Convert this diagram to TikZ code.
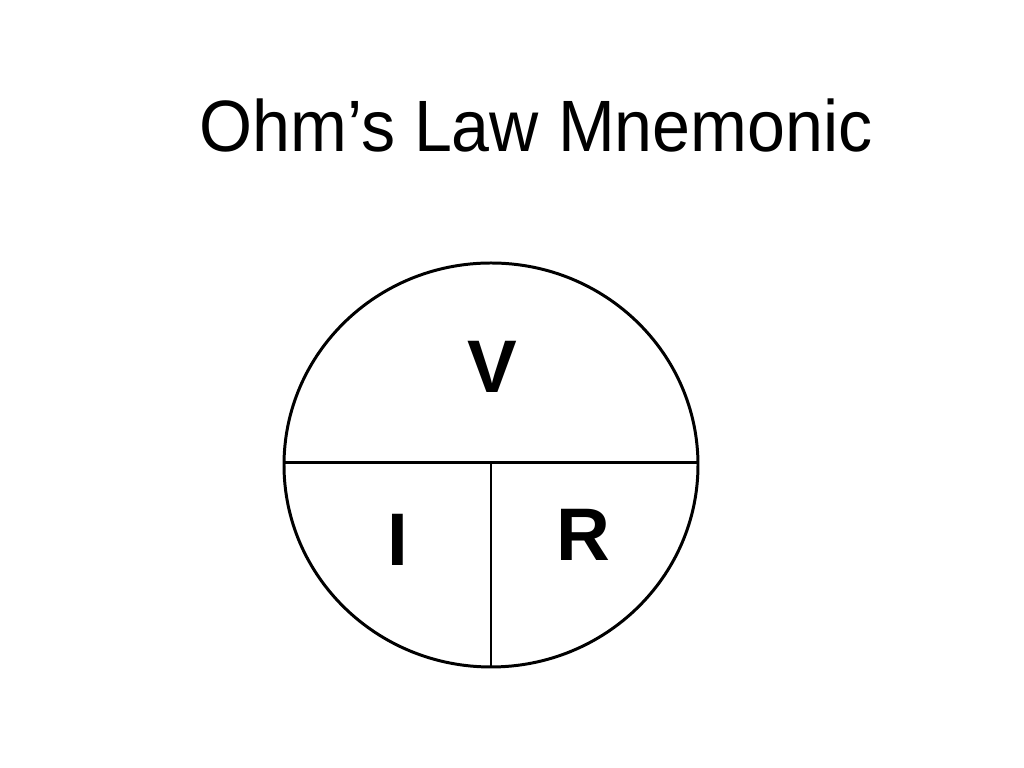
\documentclass[tikz,border=0pt]{standalone}
\usepackage{fontspec}
\setmainfont{Liberation Sans}

\begin{document}
\begin{tikzpicture}

\useasboundingbox[fill=white] (0,0) rectangle (10.24,7.68);

\tikzset{letter/.style={font=\fontsize{21.2}{25}\selectfont\bfseries, inner sep=0pt}}

\draw (5.36,6.16) node[anchor=base, inner sep=0pt, xscale=0.937, font=\fontsize{20.7}{25}\selectfont] (title) {Ohm’s Law Mnemonic};

\draw[line width=0.85pt] (4.91,3.03) ellipse (2.07cm and 2.02cm);

\draw[line width=0.85pt] (2.84,3.05) -- (6.98,3.05);
\draw[line width=0.85pt] (4.91,3.05) -- (4.91,1.01);

\draw (4.92,3.75) node[letter, anchor=base] (V) {V};
\draw (3.975,2.02) node[letter, anchor=base] (I) {I};
\draw (5.83,2.07) node[letter, anchor=base] (R) {R};

\end{tikzpicture}
\end{document}
